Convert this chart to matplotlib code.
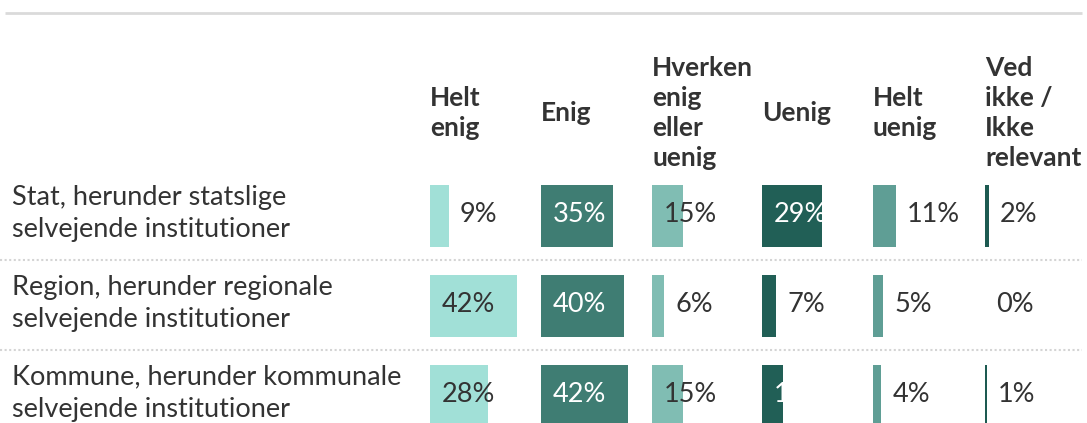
import matplotlib.pyplot as plt

# data
rows = ["Stat, herunder statslige\nselvejende institutioner",
        "Region, herunder regionale\nselvejende institutioner",
        "Kommune, herunder kommunale\nselvejende institutioner"]
columns = ["Helt\nenig", "Enig", "Hverken\nenig\neller\nuenig", "Uenig",
           "Helt\nuenig", "Ved\nikke /\nIkke\nrelevant"]
helt_enig = [9, 42, 28]
enig = [35, 40, 42]
hverken = [15, 6, 15]
uenig = [29, 7, 10]
helt_uenig = [11, 5, 4]
ved_ikke = [2, 0, 1]
values = [helt_enig, enig, hverken, uenig, helt_uenig, ved_ikke]

# styles
colors = ["#a1e0d7", "#3f7d73", "#80bdb3", "#215f56", "#5f9e95", "#1d5a51"]
label_inside = [[False, True, True], [True, True, True], [True, False, True],
                [True, False, True], [False, False, False], [False, False, False]]
inside_text = ["#333333", "white", "#333333", "white", "#333333", "#333333"]
dark = "#333333"

plt.rcParams['font.family'] = ['Lato', 'DejaVu Sans']

fig = plt.figure(figsize=(10.87, 4.23), dpi=100)
ax = fig.add_axes([0, 0, 1, 1])
ax.set_xlim(0, 1087)
ax.set_ylim(423, 0)
ax.axis('off')

col_x = [430, 541, 652, 762, 873, 985]
row_y = [216, 306, 396]
px_per_pct = 2.07
bar_h = 62

# top rule
ax.plot([5, 1082], [13.5, 13.5], color="#dadada", lw=2, solid_capstyle='butt')

# headers
for cx, name in zip(col_x, columns):
    ax.text(cx, 113, name, fontsize=19, fontweight='bold', color=dark,
            ha='left', va='center', linespacing=1.3)

# separators
for sy in [260, 350]:
    ax.plot([0, 1082], [sy, sy], color="#d4d4d4", lw=1.5, ls=(0, (1, 1.2)))

for r, (label, cy) in enumerate(zip(rows, row_y)):
    ax.text(12, cy - 3, label, fontsize=19.5, color=dark, ha='left',
            va='center', linespacing=1.35)

for c, (cx, vals) in enumerate(zip(col_x, values)):
    w = [v * px_per_pct for v in vals]
    ax.barh(row_y, w, left=cx, height=bar_h, color=colors[c], linewidth=0)
    for r, v in enumerate(vals):
        if label_inside[c][r]:
            tx, tc = cx + 12, inside_text[c]
        else:
            tx, tc = cx + v * px_per_pct + 11, dark
        ax.text(tx, row_y[r] - 2, f"{v}%", fontsize=19.5, color=tc,
                ha='left', va='center')

fig.savefig("out.png", dpi=100)
